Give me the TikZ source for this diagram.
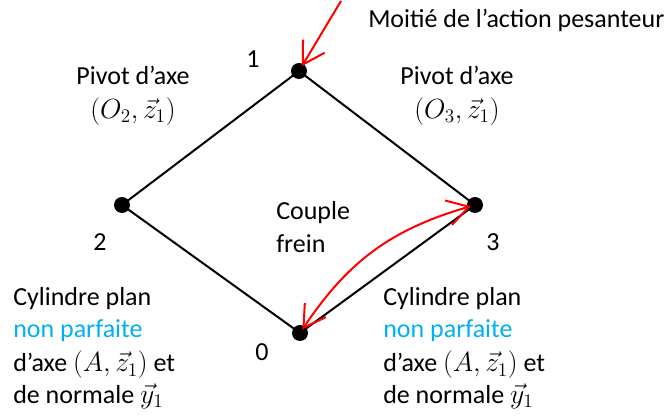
\documentclass[tikz,border=0pt]{standalone}
\usepackage{fontspec}
\setmainfont{Carlito}
\usetikzlibrary{arrows.meta}
\definecolor{skyb}{RGB}{0,176,240}
\begin{document}
\begin{tikzpicture}[x=0.75pt,y=-0.75pt,
  >={Straight Barb[length=16pt,width=19pt,line width=1.5pt]},
  dot/.style={circle,fill=black,inner sep=0pt,minimum size=12pt},
  lbl/.style={font=\fontsize{19.5}{23.5}\selectfont,inner sep=0pt},
  link/.style={line width=1.5pt},
  redarr/.style={red,line width=1.5pt}]
\useasboundingbox (0,0) rectangle (672,416);
\node[dot] (n1) at (299,71) {};
\node[dot] (n2) at (122,205) {};
\node[dot] (n3) at (475,205) {};
\node[dot] (n0) at (300,333) {};
\draw[link] (n1.center) -- (n2.center) -- (n0.center) -- (n3.center) -- cycle;
\node[lbl] (l1) at (253,59) {1};
\node[lbl] (l2) at (100,242) {2};
\node[lbl] (l3) at (493,242) {3};
\node[lbl] (l0) at (262,352) {0};
\coordinate (pstart) at (341,1);
\draw[redarr,->,shorten >=-2pt] (pstart) -- (n1);
\draw[redarr,<->,shorten <=-3pt,shorten >=-3pt] (n0) to[bend left=20] (n3);
\node[lbl,anchor=west] (pes) at (368,20) {Moitié de l’action pesanteur};
\node[lbl,align=center] (p2) at (133,96) {Pivot d’axe\\[2pt]$(O_2,\vec{z}_1)$};
\node[lbl,align=center] (p3) at (457,96) {Pivot d’axe\\[2pt]$(O_3,\vec{z}_1)$};
\node[lbl,align=left,anchor=west] (cf) at (276,227) {Couple\\[1pt]frein};
\node[lbl,align=left,anchor=north west] (c2) at (13,287) {Cylindre plan\\[1pt]\textcolor{skyb}{non parfaite}\\[2pt]d’axe $(A,\vec{z}_1)$ et\\de normale $\vec{y}_1$};
\node[lbl,align=left,anchor=north west] (c3) at (383,287) {Cylindre plan\\[1pt]\textcolor{skyb}{non parfaite}\\[2pt]d’axe $(A,\vec{z}_1)$ et\\de normale $\vec{y}_1$};
\end{tikzpicture}
\end{document}
